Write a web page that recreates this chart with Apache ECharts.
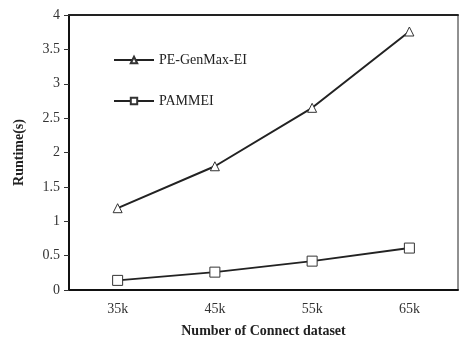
<!DOCTYPE html>
<html>
<head>
<meta charset="utf-8">
<script src="https://cdn.jsdelivr.net/npm/echarts@6/dist/echarts.min.js"></script>
<style>
  html, body { margin: 0; padding: 0; background: #fff; }
  #main { width: 459px; height: 345px; }
</style>
</head>
<body>
<div id="main"></div>
<script>
// data
var categories = ["35k", "45k", "55k", "65k"];
var genmaxValues = [1.19, 1.80, 2.65, 3.76];
var pammeiValues = [0.14, 0.26, 0.42, 0.61];

var font = "'Liberation Serif', 'Times New Roman', serif";
var myChart = echarts.init(document.getElementById('main'));
myChart.setOption({
  animation: false,
  textStyle: { fontFamily: font },
  grid: {
    left: 69, right: 1, top: 15, bottom: 55,
    outerBoundsMode: 'none',
    show: true, borderColor: '#222', borderWidth: 1
  },
  legend: {
    orient: 'vertical',
    left: 108, top: 48,
    itemGap: 27,
    itemWidth: 40, itemHeight: 8,
    textStyle: { fontFamily: font, fontSize: 14, color: '#222' },
    data: ['PE-GenMax-EI', 'PAMMEI']
  },
  xAxis: [{
    type: 'category',
    data: categories,
    boundaryGap: true,
    name: 'Number of Connect dataset',
    nameLocation: 'middle',
    nameGap: 34,
    nameTextStyle: { fontFamily: font, fontWeight: 'bold', fontSize: 14, color: '#222' },
    axisLine: { lineStyle: { color: '#111', width: 2 } },
    axisTick: { inside: true, length: 5, lineStyle: { color: '#333' } },
    axisLabel: { fontFamily: font, fontSize: 14, color: '#333', margin: 12 }
  }, {
    // top frame line only
    type: 'category',
    data: categories,
    position: 'top',
    axisLine: { lineStyle: { color: '#222', width: 2 } },
    axisTick: { show: false },
    axisLabel: { show: false }
  }],
  yAxis: {
    type: 'value',
    min: 0, max: 4, interval: 0.5,
    name: 'Runtime(s)',
    nameLocation: 'middle',
    nameGap: 43,
    nameTextStyle: { fontFamily: font, fontWeight: 'bold', fontSize: 14, color: '#222' },
    axisLine: { show: true, lineStyle: { color: '#111', width: 2 } },
    axisTick: { show: true, length: 5, lineStyle: { color: '#333' } },
    axisLabel: { fontFamily: font, fontSize: 14, color: '#333', margin: 9 },
    splitLine: { show: false }
  },
  series: [
    {
      name: 'PE-GenMax-EI',
      type: 'line',
      data: genmaxValues,
      symbol: 'triangle',
      symbolSize: 9,
      lineStyle: { color: '#222', width: 2 },
      itemStyle: { color: '#fff', borderColor: '#333', borderWidth: 1 }
    },
    {
      name: 'PAMMEI',
      type: 'line',
      data: pammeiValues,
      symbol: 'rect',
      symbolSize: 10,
      lineStyle: { color: '#222', width: 2 },
      itemStyle: { color: '#fff', borderColor: '#333', borderWidth: 1 }
    }
  ]
});
</script>
</body>
</html>
